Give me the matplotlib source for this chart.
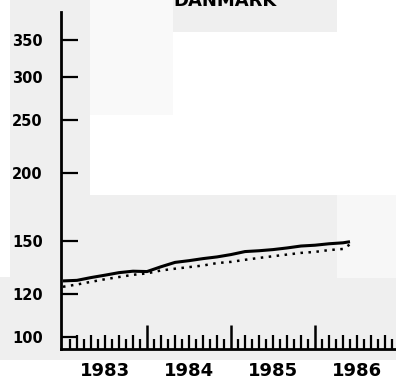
import matplotlib
matplotlib.use("Agg")
import numpy as np
import matplotlib.pyplot as plt
from matplotlib.patches import Rectangle
from matplotlib.ticker import FixedLocator, NullFormatter

# ── Data ──────────────────────────────────────────────────────────────────────
months = [0, 2, 4, 6, 8, 10, 12, 14, 16, 18, 20, 22, 24, 26, 28, 30, 32, 34, 36, 38, 40, 41]
solid = [126.7, 127.0, 128.5, 129.8, 131.2, 132.0, 131.8, 134.5, 137.0, 138.0, 139.2,
         140.2, 141.6, 143.4, 143.9, 144.6, 145.6, 146.8, 147.3, 148.2, 148.8, 149.5]
dotted = [123.6, 124.8, 126.2, 127.6, 128.8, 130.0, 130.8, 132.4, 133.4, 134.3, 135.2,
          136.6, 137.3, 138.5, 139.6, 140.6, 141.6, 142.6, 143.2, 144.3, 145.0, 147.8]
years = [1983, 1984, 1985, 1986]
yticks = [100, 120, 150, 200, 250, 300, 350]
title = "DANMARK"

t = 1983 + np.array(months) / 12.0

W, H = 396, 381
fig = plt.figure(figsize=(W / 100, H / 100), dpi=100, facecolor="white")

# ── scan background blotches ──────────────────────────────────────────────────
def patch(x0, y0, x1, y1, c):
    fig.patches.append(Rectangle((x0 / W, 1 - y1 / H), (x1 - x0) / W, (y1 - y0) / H,
                                 transform=fig.transFigure, color=c, lw=0, zorder=-5))

patch(10, 0, 90, 360, "#efefef")
patch(0, 277, 10, 360, "#efefef")
patch(90, 195, 337, 360, "#efefef")
patch(337, 278, 396, 360, "#efefef")
patch(173, 0, 337, 32, "#efefef")
patch(90, 0, 173, 115, "#f9f9f9")
patch(337, 195, 396, 278, "#f7f7f7")

# ── Axes ──────────────────────────────────────────────────────────────────────
ax_left, ax_right, ax_top, ax_bot = 61, 396, 12, 349
ax = fig.add_axes([ax_left / W, 1 - ax_bot / H, (ax_right - ax_left) / W, (ax_bot - ax_top) / H])
ax.set_facecolor("none")

px_per_year = 84.0
x0 = 1983 - 2 / px_per_year
ax.set_xlim(x0, x0 + (ax_right - ax_left) / px_per_year)
ax.set_yscale("log")
ax.set_ylim(100 * np.exp(-12 / 237), 100 * np.exp(325 / 237))

ax.plot(t, solid, color="black", lw=2.2, solid_capstyle="butt")
ax.plot(t, dotted, color="black", lw=1.8, linestyle=(0, (1, 2.2)))

for s in ["top", "right"]:
    ax.spines[s].set_visible(False)
for s in ["left", "bottom"]:
    ax.spines[s].set_linewidth(2.0)

# y ticks
ax.yaxis.set_major_locator(FixedLocator(yticks))
ax.yaxis.set_minor_locator(FixedLocator([]))
ax.set_yticklabels([str(v) for v in yticks])
ax.tick_params(axis="y", direction="in", length=12, width=1.6, pad=13,
               labelsize=10.5)
for lab in ax.get_yticklabels():
    lab.set_fontweight("bold")

# x ticks: labels at mid-year, odd months short, even months taller, years tallest
mid = [y + 0.5 for y in years]
ax.xaxis.set_major_locator(FixedLocator(mid))
ax.set_xticklabels([str(y) for y in years])
odd_months = [y + m / 12 for y in years for m in range(1, 12, 2)]
ax.xaxis.set_minor_locator(FixedLocator(odd_months))
ax.xaxis.set_minor_formatter(NullFormatter())
ax.tick_params(axis="x", which="major", direction="in", length=10, width=1.6, pad=9,
               labelsize=13)
ax.tick_params(axis="x", which="minor", direction="in", length=7, width=1.6)
for lab in ax.get_xticklabels():
    lab.set_fontweight("bold")

even_months = [y + m / 12 for y in years for m in (2, 4, 8, 10)]
sec2 = ax.secondary_xaxis(0)
sec2.set_xticks(even_months)
sec2.set_xticklabels([])
sec2.tick_params(direction="in", length=10, width=1.6)
sec2.spines["bottom"].set_visible(False)

sec = ax.secondary_xaxis(0)
sec.set_xticks(years[1:])
sec.set_xticklabels([])
sec.tick_params(direction="in", length=17, width=1.8)
sec.spines["bottom"].set_visible(False)

fig.text(225 / W, 1 - 1 / H, title, ha="center", va="center", fontsize=13,
         fontweight="bold")

fig.savefig("out.png", dpi=100, facecolor=fig.get_facecolor())
